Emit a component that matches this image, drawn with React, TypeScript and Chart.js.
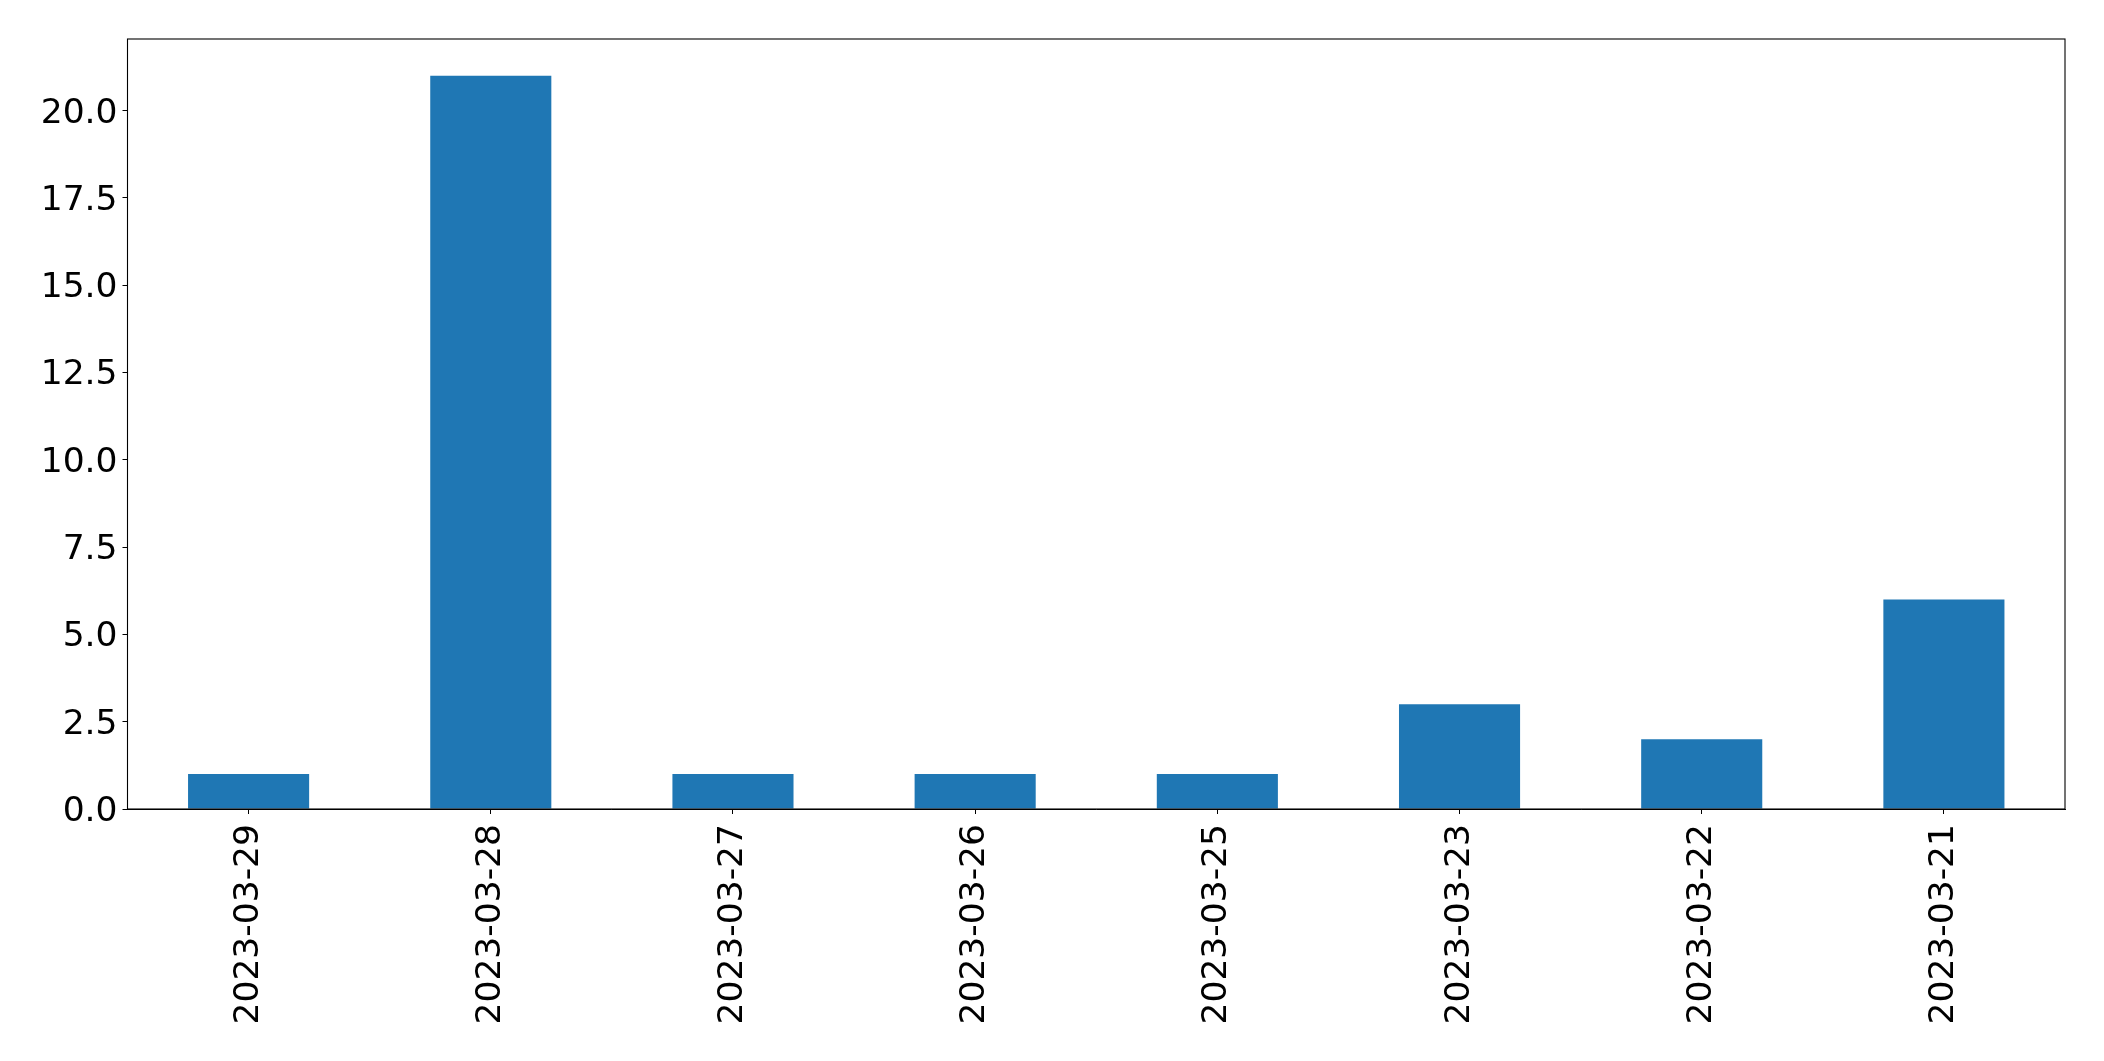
import React, { useEffect, useRef } from "react";
import { Chart, registerables } from "chart.js";

Chart.register(...registerables);

const categories = [
  "2023-03-29",
  "2023-03-28",
  "2023-03-27",
  "2023-03-26",
  "2023-03-25",
  "2023-03-23",
  "2023-03-22",
  "2023-03-21",
];
const values = [1, 21, 1, 1, 1, 3, 2, 6];
const yTicks = [0, 2.5, 5, 7.5, 10, 12.5, 15, 17.5, 20];
const yMax = 22.05;

const W = 2104;
const H = 1061;

const framePlugin = {
  id: "frame",
  afterDraw(chart: any) {
    const { ctx, chartArea } = chart;
    ctx.save();
    ctx.strokeStyle = "#000";
    ctx.lineWidth = 1.1;
    ctx.strokeRect(chartArea.left, chartArea.top, chartArea.right - chartArea.left, chartArea.bottom - chartArea.top);
    ctx.restore();
  },
};

export default function App() {
  const ref = useRef<HTMLCanvasElement | null>(null);
  useEffect(() => {
    if (!ref.current) return;
    const font = { family: "DejaVu Sans", size: 34.5 };
    const chart = new Chart(ref.current, {
      type: "bar",
      data: {
        labels: categories,
        datasets: [
          {
            data: values,
            backgroundColor: "#1f77b4",
            categoryPercentage: 1,
            barPercentage: 0.5,
          },
        ],
      },
      options: {
        animation: false,
        responsive: false,
        devicePixelRatio: 1,
        layout: { padding: { left: 0, top: 39, right: 39, bottom: 0 } },
        plugins: { legend: { display: false }, tooltip: { enabled: false } },
        scales: {
          x: {
            grid: { display: true, offset: false, drawOnChartArea: false, drawTicks: true, tickLength: 5, color: "#000", lineWidth: 1 },
            border: { display: true, color: "#000", width: 1 },
            ticks: { color: "#000", font, minRotation: 90, maxRotation: 90, padding: 10, autoSkip: false },
            afterFit(scale: any) {
              scale.height = 252;
            },
          },
          y: {
            min: 0,
            max: yMax,
            grid: { display: true, drawOnChartArea: false, drawTicks: true, tickLength: 5, color: "#000", lineWidth: 1 },
            border: { display: true, color: "#000", width: 1 },
            ticks: {
              color: "#000",
              font,
              padding: 5,
              labelOffset: 3,
              includeBounds: false,
              callback: (v: any) => Number(v).toFixed(1),
            },
            afterBuildTicks(scale: any) {
              scale.ticks = yTicks.map((v) => ({ value: v }));
            },
            afterFit(scale: any) {
              scale.width = 127.5;
            },
          },
        },
      },
      plugins: [framePlugin],
    });
    return () => chart.destroy();
  }, []);
  return (
    <div style={{ position: "fixed", left: 0, top: 0, width: W, height: H, background: "#fff" }}>
      <canvas ref={ref} width={W} height={H} style={{ width: W, height: H }} />
    </div>
  );
}
